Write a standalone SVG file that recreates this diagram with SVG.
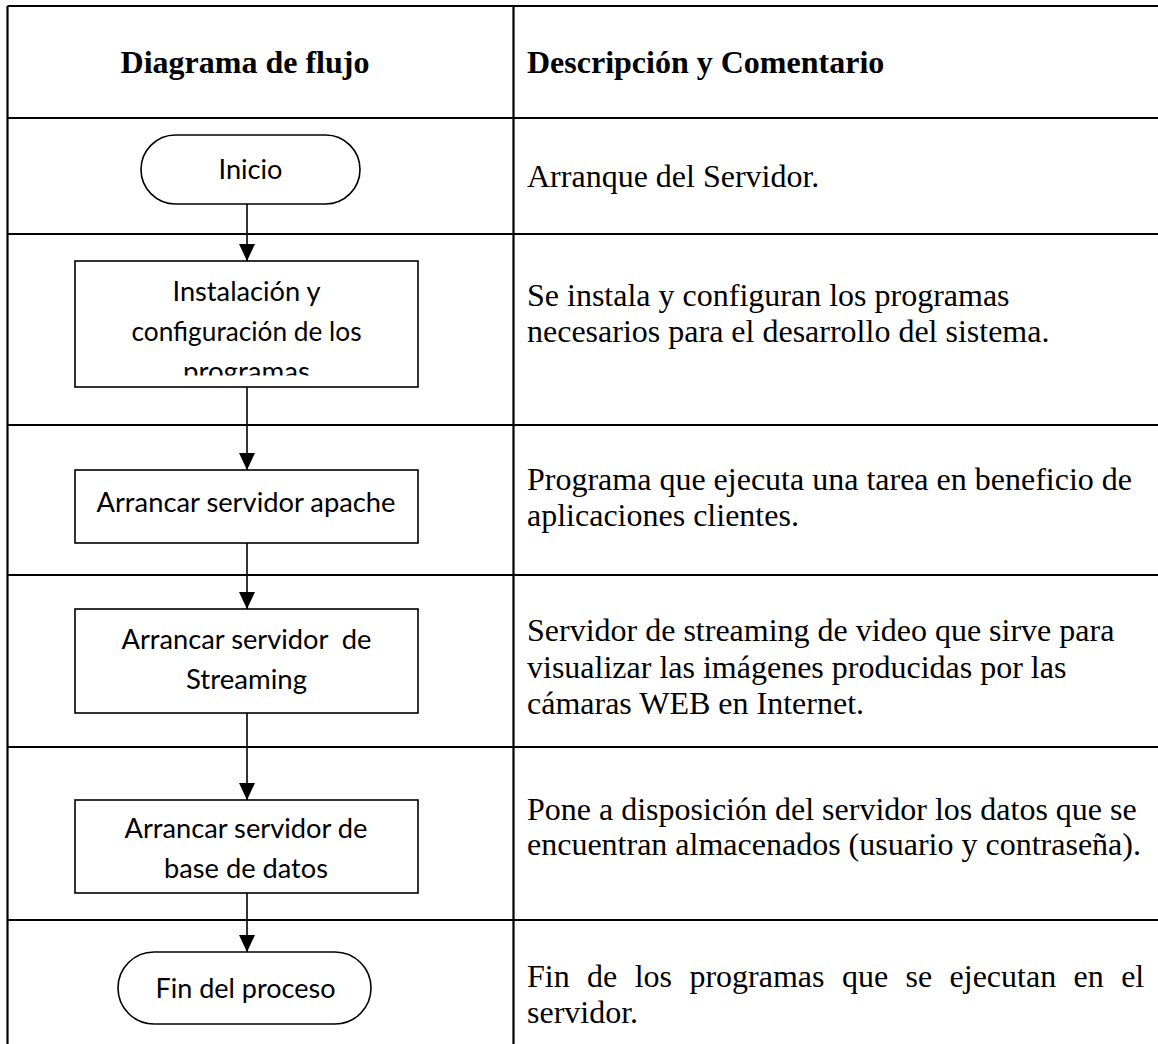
<svg xmlns="http://www.w3.org/2000/svg" width="1158" height="1044" viewBox="0 0 1158 1044">
<style>
.grid{stroke:#000;stroke-width:2.2;fill:none}
.shape{fill:#fff;stroke:#000;stroke-width:1.6}
.conn{stroke:#000;stroke-width:1.6;fill:none;marker-end:url(#arrow)}
.lbl{font-family:Lato,"Open Sans",sans-serif;font-size:27px;fill:#000;text-anchor:middle}
.hd{font-family:"Liberation Serif","Times New Roman",serif;font-size:32px;font-weight:bold;fill:#000}
.desc{font-family:"Liberation Serif","Times New Roman",serif;font-size:32px;fill:#000}
</style>
<defs>
<marker id="arrow" viewBox="0 0 17 16" refX="17" refY="8" markerWidth="17" markerHeight="16" markerUnits="userSpaceOnUse" orient="auto">
<path d="M0,0 L17,8 L0,16 z" fill="#000"/>
</marker>
<clipPath id="clipBox1"><rect x="75" y="261" width="343" height="114.5"/></clipPath>
</defs>
<rect x="0" y="0" width="1158" height="1044" fill="#fff"/>
<g id="table">
<path class="grid" d="M7.5,6 H1158 M7.5,6 V1044 M513.5,6 V1044 M7.5,118 H1158 M7.5,234 H1158 M7.5,425 H1158 M7.5,575 H1158 M7.5,747 H1158 M7.5,920 H1158"/>
<text class="hd" x="245" y="73" text-anchor="middle">Diagrama de flujo</text>
<text class="hd" x="527" y="73">Descripción y Comentario</text>
</g>
<g id="descriptions">
<text class="desc" x="527" y="187">Arranque del Servidor.</text>
<text class="desc" x="527" y="306">Se instala y configuran los programas</text>
<text class="desc" x="527" y="342">necesarios para el desarrollo del sistema.</text>
<text class="desc" x="527" y="490">Programa que ejecuta una tarea en beneficio de</text>
<text class="desc" x="527" y="526">aplicaciones clientes.</text>
<text class="desc" x="527" y="641">Servidor de streaming de video que sirve para</text>
<text class="desc" x="527" y="677.5">visualizar las imágenes producidas por las</text>
<text class="desc" x="527" y="714">cámaras WEB en Internet.</text>
<text class="desc" x="527" y="820">Pone a disposición del servidor los datos que se</text>
<text class="desc" x="527" y="855">encuentran almacenados (usuario y contraseña).</text>
<text class="desc" x="527" y="987" word-spacing="9.4">Fin de los programas que se ejecutan en el</text>
<text class="desc" x="527" y="1023">servidor.</text>
</g>
<g id="connectors">
<path class="conn" d="M247,204 V261"/>
<path class="conn" d="M247,387 V470"/>
<path class="conn" d="M247,543 V609"/>
<path class="conn" d="M247,713 V800"/>
<path class="conn" d="M247,893 V952"/>
</g>
<g id="node-inicio">
<rect class="shape" x="141" y="135" width="219" height="69" rx="34.5" ry="34.5"/>
<text class="lbl" x="250.5" y="179" textLength="64" lengthAdjust="spacingAndGlyphs">Inicio</text>
</g>
<g id="node-instalacion">
<rect class="shape" x="75" y="261" width="343" height="126"/>
<g clip-path="url(#clipBox1)">
<text class="lbl" x="246.5" y="301" textLength="148" lengthAdjust="spacingAndGlyphs">Instalación y</text>
<text class="lbl" x="246.5" y="341" textLength="230" lengthAdjust="spacingAndGlyphs">configuración de los</text>
<text class="lbl" x="246.5" y="381" textLength="127" lengthAdjust="spacingAndGlyphs">programas</text>
</g>
</g>
<g id="node-apache">
<rect class="shape" x="75" y="470" width="343" height="73"/>
<text class="lbl" x="246" y="512" textLength="299" lengthAdjust="spacingAndGlyphs">Arrancar servidor apache</text>
</g>
<g id="node-streaming">
<rect class="shape" x="75" y="609" width="343" height="104"/>
<text class="lbl" x="246.5" y="649" textLength="250" lengthAdjust="spacingAndGlyphs" xml:space="preserve">Arrancar servidor  de</text>
<text class="lbl" x="246.5" y="689" textLength="121" lengthAdjust="spacingAndGlyphs">Streaming</text>
</g>
<g id="node-basedatos">
<rect class="shape" x="75" y="800" width="343" height="93"/>
<text class="lbl" x="246" y="838" textLength="243" lengthAdjust="spacingAndGlyphs">Arrancar servidor de</text>
<text class="lbl" x="246" y="878" textLength="164" lengthAdjust="spacingAndGlyphs">base de datos</text>
</g>
<g id="node-fin">
<rect class="shape" x="118" y="952" width="253" height="72" rx="36" ry="36"/>
<text class="lbl" x="245.5" y="998" textLength="180" lengthAdjust="spacingAndGlyphs">Fin del proceso</text>
</g>
</svg>
